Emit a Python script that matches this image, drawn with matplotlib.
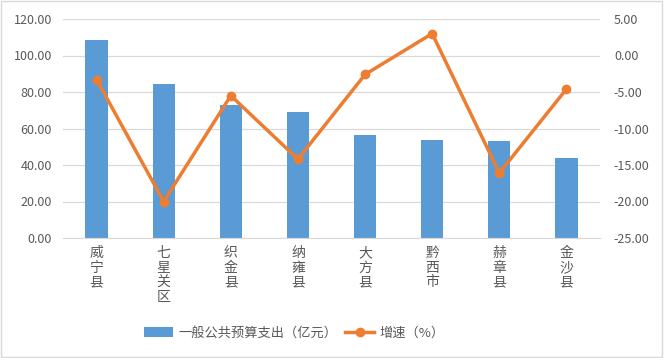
import matplotlib
matplotlib.use('Agg')
import matplotlib.pyplot as plt
import numpy as np

plt.rcParams['font.family'] = ['Noto Sans CJK SC', 'DejaVu Sans']

counties = ['威宁县', '七星关区', '织金县', '纳雍县', '大方县', '黔西市', '赫章县', '金沙县']
spending = [108.5, 84.4, 72.9, 69.0, 56.4, 53.7, 53.2, 43.8]
growth = [-3.3, -20.0, -5.5, -14.2, -2.6, 3.0, -16.1, -4.6]

bar_color = '#5B9BD5'
line_color = '#ED7D31'
text_color = '#595959'

fig = plt.figure(figsize=(6.64, 3.58), dpi=100)
ax = fig.add_axes([63 / 664, 1 - 238 / 358, 537 / 664, 219 / 358])
ax2 = ax.twinx()

x = np.arange(len(counties))
ax.bar(x, spending, width=0.33, color=bar_color, zorder=2, label='一般公共预算支出（亿元）')
ax2.plot(x, growth, color=line_color, linewidth=2.5, marker='o', markersize=6,
         zorder=3, label='增速（%）')

ax.set_xlim(-0.5, len(counties) - 0.5)
ax.set_ylim(0, 120)
ax.set_yticks(np.arange(0, 121, 20))
ax.set_yticklabels([f'{v:.2f}' for v in np.arange(0, 121, 20)])
ax2.set_ylim(-25, 5)
ax2.set_yticks(np.arange(-25, 6, 5))
ax2.set_yticklabels([f'{v:.2f}' for v in np.arange(-25, 6, 5)])

ax.set_xticks(x)
ax.set_xticklabels(['\n'.join(c) for c in counties], linespacing=1.05, va='top')

ax.grid(axis='y', color='#D9D9D9', linewidth=0.9, zorder=0)
ax.set_axisbelow(True)
for a in (ax, ax2):
    for s in a.spines.values():
        s.set_visible(False)
    a.tick_params(length=0, colors=text_color, labelsize=9)
ax.spines['bottom'].set_visible(True)
ax.spines['bottom'].set_color('#D9D9D9')
ax.tick_params(axis='x', labelsize=10, pad=6)
ax.tick_params(axis='y', pad=8)
ax2.tick_params(axis='y', pad=10)

ax.set_zorder(ax2.get_zorder() - 1)
ax.patch.set_visible(False)

h1, l1 = ax.get_legend_handles_labels()
h2, l2 = ax2.get_legend_handles_labels()
fig.legend(h1 + h2, l1 + l2, loc='center', bbox_to_anchor=(0.443, 1 - 333 / 358),
           ncol=2, frameon=False, fontsize=9.5, labelcolor=text_color,
           handlelength=2.2, handletextpad=0.4, columnspacing=0.6)

fig.add_artist(plt.Rectangle((0.002, 0.003), 0.995, 0.993, transform=fig.transFigure,
                             fill=False, edgecolor='#D9D9D9', linewidth=1))

fig.savefig('out.png', dpi=100)
